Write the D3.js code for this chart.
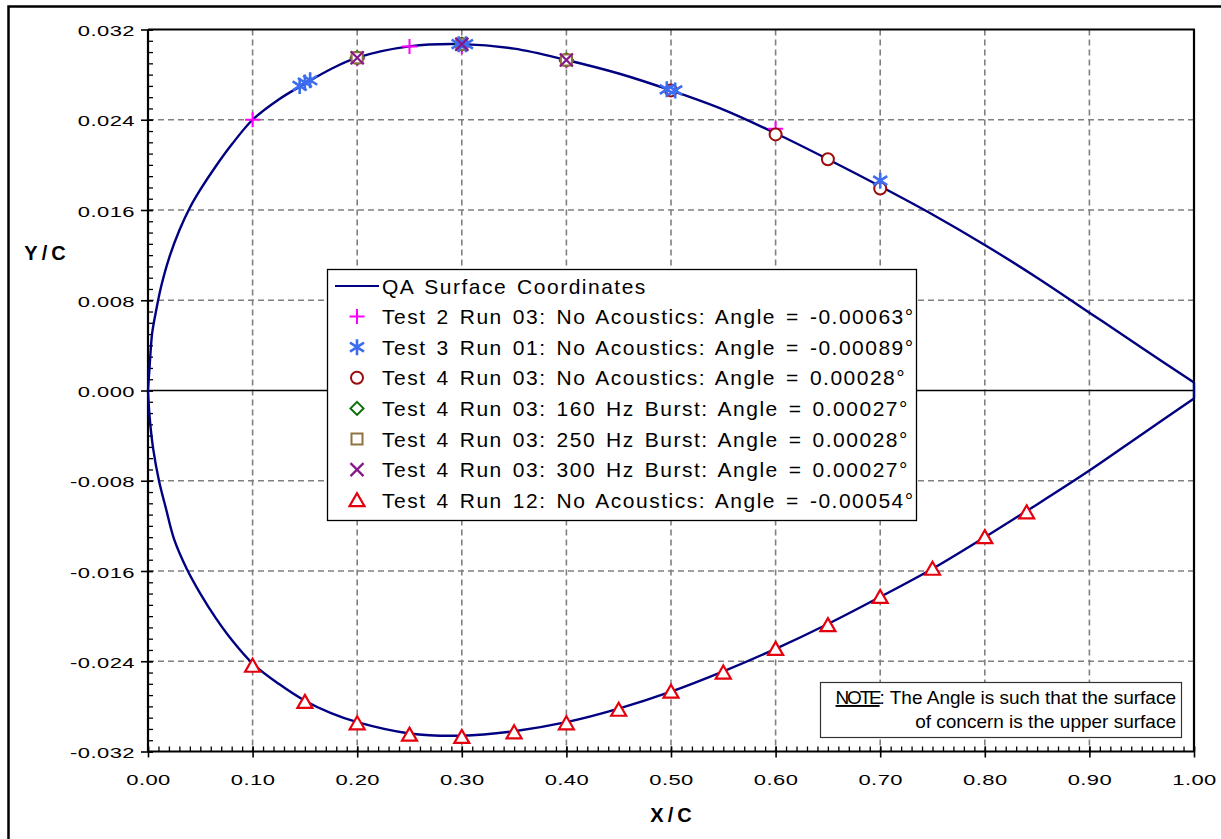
<!DOCTYPE html>
<html><head><meta charset="utf-8">
<script src="https://cdn.jsdelivr.net/npm/d3@7"></script>
<style>
html,body{margin:0;padding:0;background:#fff;}
svg{display:block;font-family:"Liberation Sans",Arial,Helvetica,sans-serif;}
</style></head>
<body>
<svg id="chart" width="1221" height="839"></svg>
<script>
// ---- data ----
const upperX = [0, 0.0016, 0.004, 0.008, 0.0125, 0.02, 0.03, 0.04, 0.05, 0.065, 0.08, 0.1, 0.125, 0.15, 0.175, 0.2, 0.25, 0.3, 0.35, 0.4, 0.45, 0.5, 0.55, 0.6, 0.65, 0.7, 0.75, 0.8, 0.85, 0.9, 0.95, 1.0];
const upperY = [0, 0.0022, 0.0051, 0.0072, 0.0092, 0.0117, 0.0142, 0.0162, 0.0178, 0.0199, 0.0218, 0.0240, 0.0258, 0.0272, 0.0285, 0.0295, 0.0305, 0.0307, 0.0303, 0.0293, 0.0281, 0.0266, 0.0249, 0.0228, 0.0205, 0.0181, 0.0156, 0.0129, 0.0100, 0.0069, 0.0038, 0.0007];
const lowerX = [0, 0.0016, 0.005, 0.0105, 0.017, 0.025, 0.037, 0.05, 0.065, 0.08, 0.1, 0.125, 0.15, 0.175, 0.2, 0.25, 0.3, 0.35, 0.4, 0.45, 0.5, 0.55, 0.6, 0.65, 0.7, 0.75, 0.8, 0.85, 0.9, 0.95, 1.0];
const lowerY = [0, -0.0024, -0.0052, -0.0080, -0.0104, -0.0132, -0.0158, -0.0180, -0.0202, -0.0221, -0.0242, -0.0260, -0.0275, -0.0286, -0.0294, -0.0304, -0.0306, -0.0302, -0.0294, -0.0282, -0.0267, -0.0249, -0.0229, -0.0207, -0.0183, -0.0158, -0.0130, -0.0101, -0.0071, -0.0039, -0.0007];

const t2r03X = [0.1, 0.2, 0.25, 0.3, 0.4, 0.6];
const t2r03Y = [0.0240, 0.0294, 0.0305, 0.0305, 0.0292, 0.0232];
const t3r01X = [0.145, 0.15, 0.155, 0.297, 0.304, 0.496, 0.504, 0.7];
const t3r01Y = [0.0270, 0.0273, 0.0275, 0.0307, 0.0307, 0.0267, 0.0266, 0.0186];
const t4r03X = [0.2, 0.3, 0.4, 0.5, 0.6, 0.65, 0.7];
const t4r03Y = [0.0295, 0.0307, 0.0293, 0.0266, 0.0227, 0.0205, 0.0179];
const hz160X = [0.2, 0.3, 0.4];
const hz160Y = [0.0295, 0.0307, 0.0293];
const hz250X = [0.2, 0.3, 0.4];
const hz250Y = [0.0295, 0.0307, 0.0293];
const hz300X = [0.2, 0.3, 0.4];
const hz300Y = [0.0295, 0.0307, 0.0293];
const t4r12X = [0.1, 0.15, 0.2, 0.25, 0.3, 0.35, 0.4, 0.45, 0.5, 0.55, 0.6, 0.65, 0.7, 0.75, 0.8, 0.84];
const t4r12Y = [-0.0244, -0.0276, -0.0295, -0.0305, -0.0307, -0.0303, -0.0295, -0.0283, -0.0267, -0.0250, -0.0229, -0.0208, -0.0183, -0.0158, -0.0130, -0.0108];

const xTickValues = [0, 0.1, 0.2, 0.3, 0.4, 0.5, 0.6, 0.7, 0.8, 0.9, 1.0];
const yTickValues = [-0.032, -0.024, -0.016, -0.008, 0, 0.008, 0.016, 0.024, 0.032];
const legendLabels = [
  "QA Surface Coordinates",
  "Test 2 Run 03: No Acoustics: Angle = -0.00063°",
  "Test 3 Run 01: No Acoustics: Angle = -0.00089°",
  "Test 4 Run 03: No Acoustics: Angle = 0.00028°",
  "Test 4 Run 03: 160 Hz Burst: Angle = 0.00027°",
  "Test 4 Run 03: 250 Hz Burst: Angle = 0.00028°",
  "Test 4 Run 03: 300 Hz Burst: Angle = 0.00027°",
  "Test 4 Run 12: No Acoustics: Angle = -0.00054°"
];

// ---- layout ----
const svg = d3.select("#chart");
const L = 148, R = 1194, T = 29.5, B = 751.5;
const x = d3.scaleLinear().domain([0, 1]).range([L, R]);
const y = d3.scaleLinear().domain([-0.032, 0.032]).range([B, T]);

// outer border
svg.append("rect").attr("x", 8.5).attr("y", 6.5).attr("width", 1400).attr("height", 1000)
  .attr("fill", "none").attr("stroke", "#000").attr("stroke-width", 2.5);

// grid
const g = svg.append("g");
g.selectAll("line.vg").data(xTickValues.filter(v => v > 0 && v < 1)).join("line")
  .attr("x1", d => x(d)).attr("x2", d => x(d)).attr("y1", T).attr("y2", B)
  .attr("stroke", "#808080").attr("stroke-width", 1.6).attr("stroke-dasharray", "6,4");
g.selectAll("line.hg").data(yTickValues.filter(v => v !== 0 && Math.abs(v) < 0.03)).join("line")
  .attr("x1", L).attr("x2", R).attr("y1", d => y(d)).attr("y2", d => y(d))
  .attr("stroke", "#808080").attr("stroke-width", 1.6).attr("stroke-dasharray", "6,4");
// zero line
g.append("line").attr("x1", L).attr("x2", R).attr("y1", y(0)).attr("y2", y(0))
  .attr("stroke", "#000").attr("stroke-width", 1.6);

// frame top and right
svg.append("line").attr("x1", L).attr("x2", R + 1).attr("y1", T).attr("y2", T).attr("stroke", "#000").attr("stroke-width", 2.2);
svg.append("line").attr("x1", R).attr("x2", R).attr("y1", T).attr("y2", B).attr("stroke", "#000").attr("stroke-width", 2.2);

// minor ticks
const minorY = d3.range(-32, 33).map(v => v / 1000);
const minorX = d3.range(0, 101).map(v => v / 100);
svg.append("g").attr("transform", `translate(${L},0)`)
  .call(d3.axisRight(y).tickValues(minorY).tickSize(5).tickFormat(""))
  .call(s => s.select(".domain").remove())
  .selectAll("line").attr("stroke", "#000").attr("stroke-width", 1.3);
svg.append("g").attr("transform", `translate(0,${B})`)
  .call(d3.axisTop(x).tickValues(minorX).tickSize(5).tickFormat(""))
  .call(s => s.select(".domain").remove())
  .selectAll("line").attr("stroke", "#000").attr("stroke-width", 1.3);

// major axes
const sx = 1.42;
const yAxis = svg.append("g").attr("transform", `translate(${L},0)`)
  .call(d3.axisLeft(y).tickValues(yTickValues).tickSize(7).tickPadding(2).tickFormat(d => d.toFixed(3)));
yAxis.select(".domain").attr("stroke-width", 2.2).attr("d", `M0,${T}V${B}`);
yAxis.selectAll(".tick line").attr("x1", 5).attr("stroke-width", 1.6);
yAxis.selectAll(".tick text")
  .attr("x", -13 / sx).attr("dy", "0.4em")
  .attr("transform", `scale(${sx},1)`)
  .attr("font-size", 15.5).attr("letter-spacing", 0.3)
  .attr("font-family", '"Liberation Sans",Arial,sans-serif').attr("fill", "#000");

const xAxis = svg.append("g").attr("transform", `translate(0,${B})`)
  .call(d3.axisBottom(x).tickValues(xTickValues).tickSize(6).tickFormat(d => d.toFixed(2)));
xAxis.select(".domain").attr("stroke-width", 2.2).attr("d", `M${L},0H${R}`);
xAxis.selectAll(".tick line").attr("y1", -5).attr("stroke-width", 1.6);
xAxis.selectAll(".tick text")
  .attr("y", 22).attr("dy", "0.71em")
  .attr("transform", `scale(${sx},1)`)
  .attr("x", 0)
  .attr("font-size", 15.5).attr("letter-spacing", 0.3)
  .attr("font-family", '"Liberation Sans",Arial,sans-serif').attr("fill", "#000");

// axis titles
svg.append("text").attr("x", 47).attr("y", 260).attr("text-anchor", "middle")
  .attr("font-size", 20).attr("font-weight", "bold").attr("letter-spacing", 4).text("Y/C");
svg.append("text").attr("x", 673).attr("y", 822).attr("text-anchor", "middle")
  .attr("font-size", 20).attr("font-weight", "bold").attr("letter-spacing", 4).text("X/C");

// surface curve
const line = d3.line().x(d => x(d[0])).y(d => y(d[1])).curve(d3.curveCatmullRom.alpha(0.5));
const upper = upperX.map((v, i) => [v, upperY[i]]);
const lower = lowerX.map((v, i) => [v, lowerY[i]]);
const curveG = svg.append("g");
curveG.append("path").attr("d", line(upper)).attr("fill", "none").attr("stroke", "#000080").attr("stroke-width", 2.4);
curveG.append("path").attr("d", line(lower)).attr("fill", "none").attr("stroke", "#000080").attr("stroke-width", 2.4);
// trailing edge closure
curveG.append("line").attr("x1", x(1)).attr("x2", x(1))
  .attr("y1", y(upperY[upperY.length - 1])).attr("y2", y(lowerY[lowerY.length - 1]))
  .attr("stroke", "#000080").attr("stroke-width", 2.4);

// marker shapes
const shapes = {
  plus: (cx, cy) => `M${cx-7.5},${cy}H${cx+7.5}M${cx},${cy-7.5}V${cy+7.5}`,
  star: (cx, cy) => `M${cx},${cy-8}V${cy+8}M${cx-7},${cy-4.5}L${cx+7},${cy+4.5}M${cx-7},${cy+4.5}L${cx+7},${cy-4.5}`,
  circle: (cx, cy) => `M${cx+6},${cy}A6,6 0 1,1 ${cx-6},${cy}A6,6 0 1,1 ${cx+6},${cy}Z`,
  diamond: (cx, cy) => `M${cx},${cy-6.5}L${cx+6.5},${cy}L${cx},${cy+6.5}L${cx-6.5},${cy}Z`,
  square: (cx, cy) => `M${cx-5.5},${cy-5.5}H${cx+5.5}V${cy+5.5}H${cx-5.5}Z`,
  cross: (cx, cy) => `M${cx-6.5},${cy-6.5}L${cx+6.5},${cy+6.5}M${cx-6.5},${cy+6.5}L${cx+6.5},${cy-6.5}`,
  tri: (cx, cy) => `M${cx},${cy-7}L${cx+7.5},${cy+6}H${cx-7.5}Z`
};
const series = [
  {xs: t2r03X, ys: t2r03Y, shape: "plus", color: "#ff00ff", fill: "none", leg: 1, w: 2},
  {xs: t4r03X, ys: t4r03Y, shape: "circle", color: "#9c0c0c", fill: "#fff", leg: 3, w: 2},
  {xs: hz160X, ys: hz160Y, shape: "diamond", color: "#0a6e0a", fill: "#fff", leg: 4, w: 2},
  {xs: hz250X, ys: hz250Y, shape: "square", color: "#8f7240", fill: "#fff", leg: 5, w: 2},
  {xs: t3r01X, ys: t3r01Y, shape: "star", color: "#3c6cf0", fill: "none", leg: 2, w: 2.6},
  {xs: hz300X, ys: hz300Y, shape: "cross", color: "#86168a", fill: "none", leg: 6, w: 2.2},
  {xs: t4r12X, ys: t4r12Y, shape: "tri", color: "#e5000e", fill: "#fff", leg: 7, w: 2.2}
];
series.forEach(s => {
  const pts = s.xs.map((v, i) => [v, s.ys[i]]);
  svg.append("g").selectAll("path").data(pts).join("path")
    .attr("d", d => shapes[s.shape](x(d[0]), y(d[1])))
    .attr("fill", s.fill).attr("stroke", s.color).attr("stroke-width", s.w);
});

// legend
const lg = svg.append("g");
lg.append("rect").attr("x", 327.5).attr("y", 269.5).attr("width", 589).attr("height", 251)
  .attr("fill", "#fff").attr("stroke", "#000").attr("stroke-width", 1.3);
const rowY = i => 286 + i * 30.6;
lg.append("line").attr("x1", 335).attr("x2", 379).attr("y1", rowY(0)).attr("y2", rowY(0))
  .attr("stroke", "#000080").attr("stroke-width", 2);
series.forEach(s => {
  lg.append("path").attr("d", shapes[s.shape](357, rowY(s.leg)))
    .attr("fill", s.fill).attr("stroke", s.color).attr("stroke-width", s.w);
});
lg.selectAll("text").data(legendLabels).join("text")
  .attr("x", 382).attr("y", (d, i) => rowY(i) + 7.5)
  .attr("font-size", 21).attr("letter-spacing", 1.5).attr("word-spacing", 2.7)
  .attr("fill", "#000").text(d => d);

// note box
const ng = svg.append("g");
ng.append("rect").attr("x", 820.5).attr("y", 682.5).attr("width", 361).attr("height", 55)
  .attr("fill", "#fff").attr("stroke", "#333").attr("stroke-width", 1.2);
const n1 = ng.append("text").attr("x", 1176).attr("y", 704).attr("text-anchor", "end").attr("font-size", 19);
n1.append("tspan").attr("text-decoration", "underline").attr("letter-spacing", -2.2).text("NOTE");
n1.append("tspan").text(": The Angle is such that the surface");
ng.append("text").attr("x", 1176).attr("y", 728).attr("text-anchor", "end").attr("font-size", 19)
  .text("of concern is the upper surface");
</script>
</body></html>
